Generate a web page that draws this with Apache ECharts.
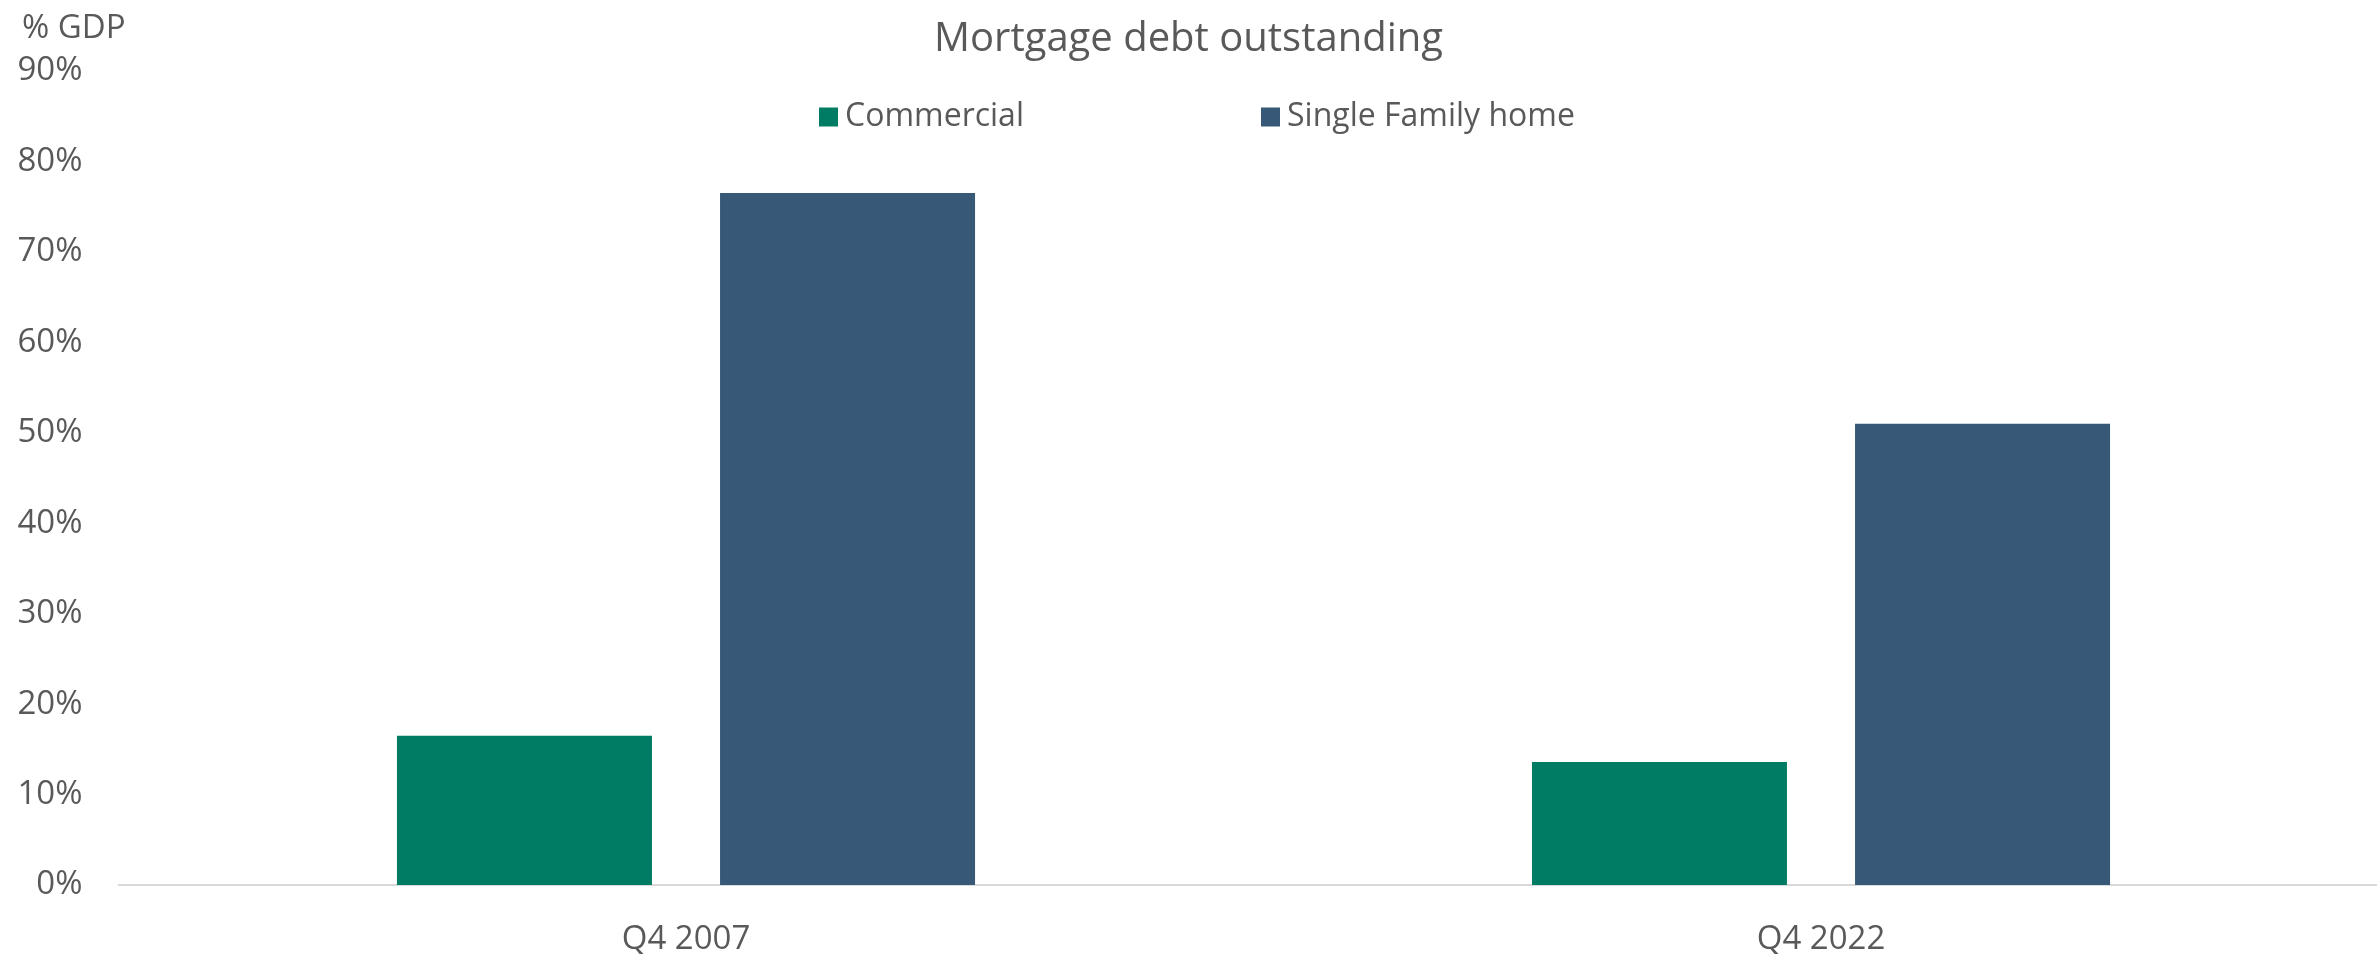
<!DOCTYPE html>
<html>
<head>
<meta charset="utf-8">
<title>Mortgage debt outstanding</title>
<script src="https://cdn.jsdelivr.net/npm/echarts@6/dist/echarts.min.js"></script>
<style>
  html, body { margin: 0; padding: 0; background: #ffffff; }
  #chart { width: 2377px; height: 954px; }
</style>
</head>
<body>
<div id="chart"></div>
<script>
// Mortgage debt outstanding, % of GDP
const categories = ['Q4 2007', 'Q4 2022'];
const commercial = [16.5, 13.6];
const singleFamily = [76.5, 51.0];
const seriesNames = ['Commercial', 'Single Family home'];

const TEXT = '#595959';
const FONT = '"Open Sans", "Noto Sans", sans-serif';
const GREEN = '#007C64';
const BLUE = '#375977';

const chart = echarts.init(document.getElementById('chart'), null, { renderer: 'canvas' });

chart.setOption({
  backgroundColor: '#ffffff',
  animation: false,
  textStyle: { fontFamily: FONT, color: TEXT },
  title: {
    text: 'Mortgage debt outstanding',
    left: 'center',
    top: 15,
    textStyle: { fontFamily: FONT, fontSize: 40, fontWeight: 'normal', color: TEXT }
  },
  legend: [
    {
      data: [seriesNames[0]],
      left: 819, top: 101, padding: 0,
      itemWidth: 19, itemHeight: 19,
      icon: 'rect',
      textStyle: { fontFamily: FONT, fontSize: 32, color: TEXT, padding: [0, 0, 0, 2] }
    },
    {
      data: [seriesNames[1]],
      left: 1261, top: 101, padding: 0,
      itemWidth: 19, itemHeight: 19,
      icon: 'rect',
      textStyle: { fontFamily: FONT, fontSize: 32, color: TEXT, padding: [0, 0, 0, 2] }
    }
  ],
  graphic: [
    {
      type: 'text',
      left: 22, top: 12,
      style: { text: '% GDP', fontFamily: FONT, fontSize: 33, fill: TEXT }
    }
  ],
  // plot area runs slightly past the right edge of the canvas
  grid: {
    left: 118.5, width: 2270, top: 71, height: 814,
    containLabel: false,
    outerBoundsMode: 'none'
  },
  xAxis: {
    type: 'category',
    data: categories,
    axisLine: { show: true, lineStyle: { color: '#D9D9D9', width: 2 } },
    axisTick: { show: false },
    axisLabel: { margin: 38, fontFamily: FONT, fontSize: 33, color: TEXT }
  },
  yAxis: {
    type: 'value',
    min: 0, max: 90, interval: 10,
    axisLine: { show: false },
    axisTick: { show: false },
    splitLine: { show: false },
    axisLabel: {
      margin: 36,
      fontFamily: FONT, fontSize: 33, color: TEXT,
      formatter: '{value}%'
    }
  },
  series: [
    {
      name: seriesNames[0],
      type: 'bar',
      data: commercial,
      barWidth: 255,
      barGap: '26.7%',
      itemStyle: { color: GREEN }
    },
    {
      name: seriesNames[1],
      type: 'bar',
      data: singleFamily,
      barWidth: 255,
      barGap: '26.7%',
      itemStyle: { color: BLUE }
    }
  ]
});
</script>
</body>
</html>
